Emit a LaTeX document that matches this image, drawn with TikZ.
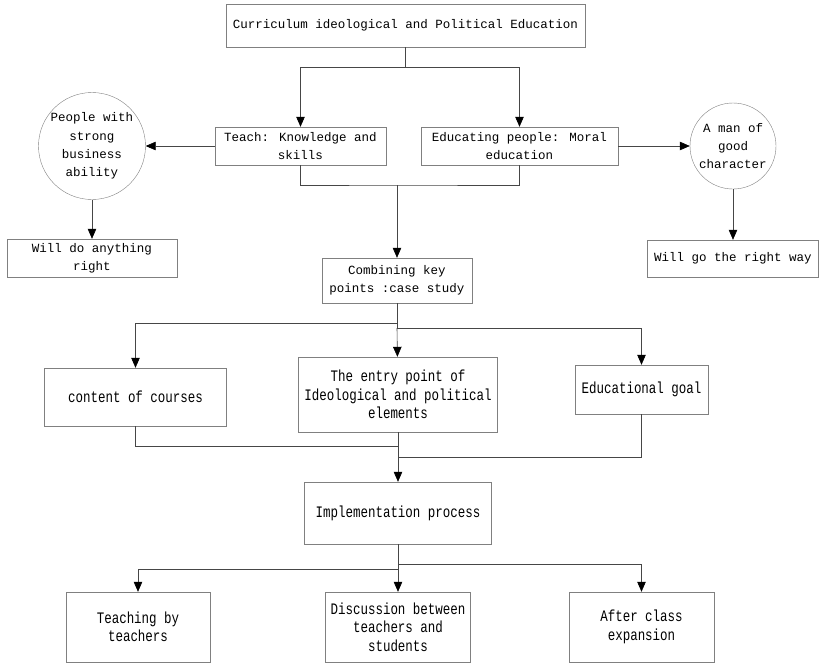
\documentclass[tikz,border=0pt]{standalone}
\usepackage{fontspec}
\usepackage{tikz}
\usetikzlibrary{arrows.meta}
\newfontfamily\boxfont{Liberation Mono}
\newfontfamily\narrowfont[FakeStretch=0.78]{Liberation Mono}
\definecolor{boxgray}{RGB}{128,128,128}
\definecolor{linegray}{RGB}{70,70,70}
\tikzset{
  box/.style={draw=boxgray, rectangle, align=center, inner sep=1pt, font=\boxfont\fontsize{12.5}{18.3}\selectfont},
  lowbox/.style={box, font=\narrowfont\fontsize{16}{18.3}\selectfont},
  ring/.style={draw=boxgray, circle, align=center, inner sep=0pt, font=\boxfont\fontsize{12.5}{18.3}\selectfont},
  line/.style={draw=linegray, line width=0.6pt},
  arr/.style={line, -{Triangle[length=10pt, width=8.5pt, black]}}
}
\begin{document}
\begin{tikzpicture}[x=1pt, y=-1pt]
        \useasboundingbox [fill=white] (0, 0) rectangle (823, 670);
        \node (top) at (405.5, 25.5) [box, minimum width=359, minimum height=43] {Curriculum ideological and Political Education};
        \node (teach) at (300.5, 146) [box, minimum width=171, minimum height=38] {Teach: Knowledge and\\skills};
        \node (edu) at (519.5, 146) [box, minimum width=197, minimum height=38] {Educating people: Moral\\education};
        \node (people) at (92, 146) [ring, minimum size=107] {People with\\strong\\business\\ability};
        \node (man) at (733, 146) [ring, minimum size=86] {A man of\\good\\character};
        \node (anything) at (92, 258) [box, minimum width=170, minimum height=38] {Will do anything\\right};
        \node (rightway) at (733, 258.5) [box, minimum width=171, minimum height=37] {Will go the right way};
        \node (combine) at (397, 280.5) [box, minimum width=150, minimum height=45] {Combining key\\points :case study};
        \node (content) at (135.5, 397) [lowbox, minimum width=182, minimum height=58] {content of courses};
        \node (entry) at (398, 394.5) [lowbox, minimum width=199, minimum height=75] {The entry point of\\Ideological and political\\elements};
        \node (goal) at (641.5, 389.5) [lowbox, minimum width=133, minimum height=49] {Educational goal};
        \node (impl) at (398, 513) [lowbox, minimum width=187, minimum height=62] {Implementation process};
        \node (byteacher) at (138, 627) [lowbox, minimum width=144, minimum height=70] {Teaching by\\teachers};
        \node (discuss) at (398, 627) [lowbox, minimum width=145, minimum height=70] {Discussion between\\teachers and\\students};
        \node (after) at (641.5, 627) [lowbox, minimum width=145, minimum height=70] {After class\\expansion};
        % split points
        \coordinate (s1) at (405.5, 67);
        \coordinate (s2) at (397, 185);
        \coordinate (s3) at (397, 323);
        \coordinate (s4) at (397, 328);
        \coordinate (m1) at (398, 446);
        \coordinate (m2) at (398, 457);
        \coordinate (s5) at (398, 564);
        \coordinate (s6) at (398, 569);
        \draw [line] (top.south) -- (s1);
        \draw [arr] (s1) -| (teach.north);
        \draw [arr] (s1) -| (edu.north);
        \draw [arr] (teach.west) -- (people);
        \draw [arr] (edu.east) -- (man);
        \draw [arr] (people) -- (anything);
        \draw [arr] (man) -- (man |- rightway.north);
        \draw [line] (teach.south) |- (s2) -| (edu.south);
        \draw [arr] (s2) -- (combine);
        \draw [line] (combine.south) -- (s4);
        \draw [arr] (s3) -| (content.north);
        \draw [arr] (s4) -- (entry);
        \draw [arr] (s4) -| (goal.north);
        \draw [line] (content.south) |- (m1);
        \draw [line] (goal.south) |- (m2);
        \draw [arr] (entry) -- (impl);
        \draw [line] (impl.south) -- (s6);
        \draw [arr] (s5) -| (after.north);
        \draw [arr] (s6) -| (byteacher.north);
        \draw [arr] (s6) -- (discuss);
\end{tikzpicture}
\end{document}
